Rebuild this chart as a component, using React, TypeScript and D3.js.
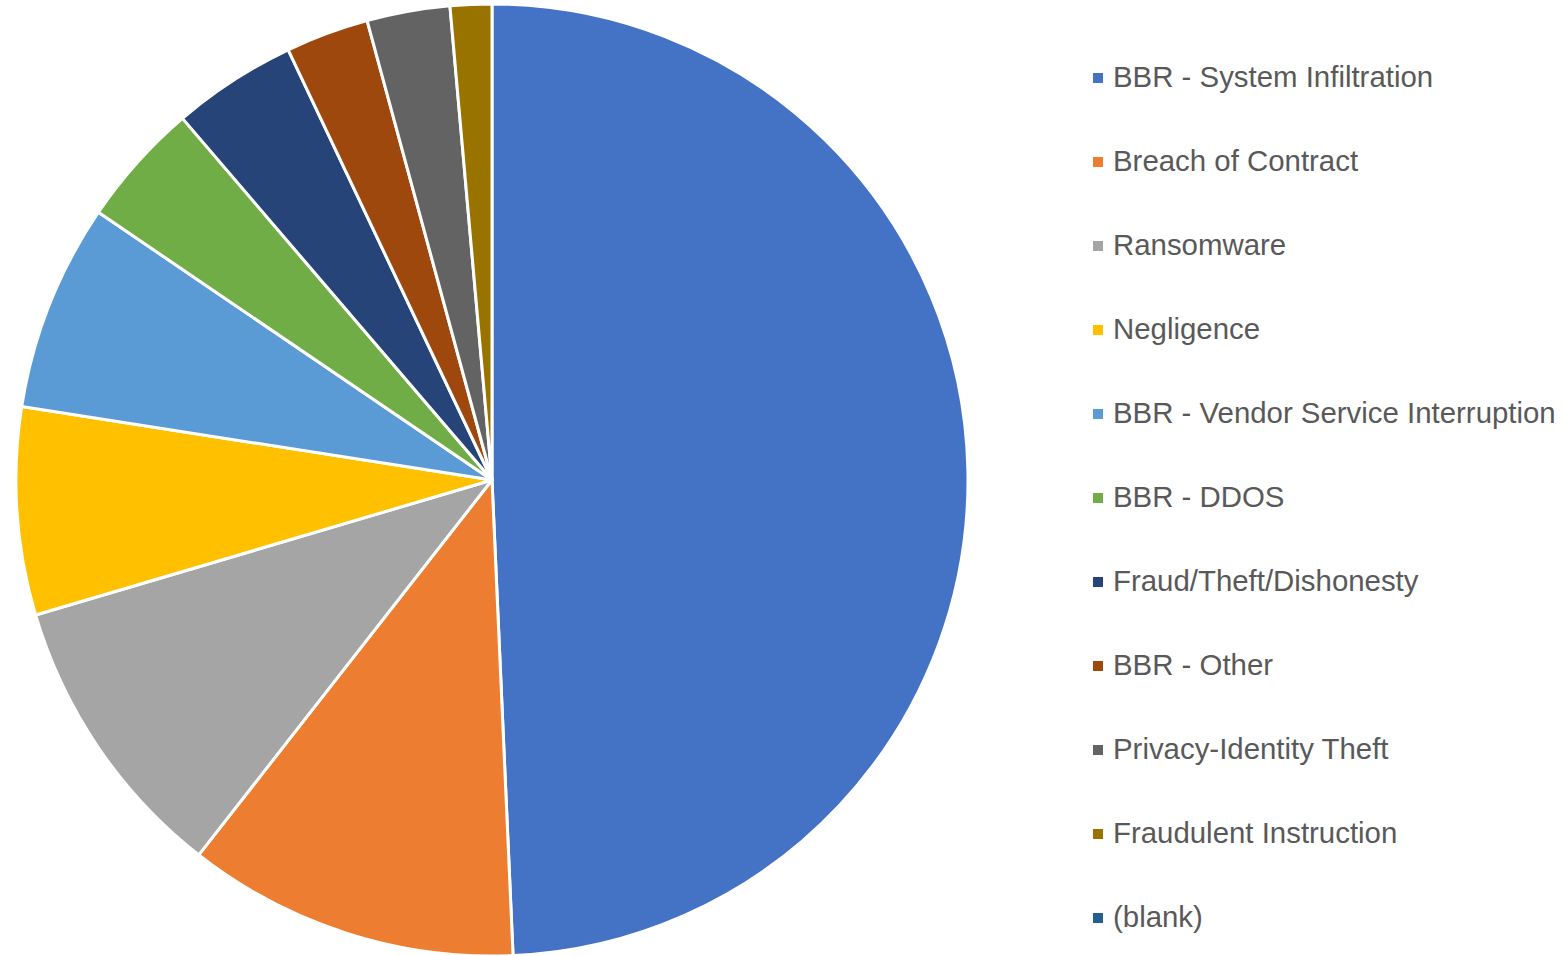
import React from "react";
import * as d3 from "d3";

const categories = [
  "BBR - System Infiltration",
  "Breach of Contract",
  "Ransomware",
  "Negligence",
  "BBR - Vendor Service Interruption",
  "BBR - DDOS",
  "Fraud/Theft/Dishonesty",
  "BBR - Other",
  "Privacy-Identity Theft",
  "Fraudulent Instruction",
  "(blank)",
];
const values = [35, 8, 7, 5, 5, 3, 3, 2, 2, 1, 0];
const colors = [
  "#4472C4", "#ED7D31", "#A5A5A5", "#FFC000", "#5B9BD5", "#70AD47",
  "#264478", "#9E480E", "#636363", "#997300", "#255E91",
];

const W = 1565;
const H = 956;
const cx = 492;
const cy = 480;
const R = 476;

export default function App() {
  const pie = d3.pie<number>().sort(null).value((d) => d)(values);
  const arc = d3.arc<d3.PieArcDatum<number>>().innerRadius(0).outerRadius(R);
  const legendY = d3.scalePoint<number>().domain(d3.range(categories.length)).range([78, 918]);
  return (
    <svg width={W} height={H} style={{ position: "absolute", left: 0, top: 0, background: "#fff" }}>
      <g transform={`translate(${cx},${cy})`}>
        {pie.map((p, i) =>
          p.value > 0 ? (
            <path key={i} d={arc(p) || ""} fill={colors[i]} stroke="#fff" strokeWidth={3} strokeLinejoin="round" />
          ) : null
        )}
      </g>
      <g>
        {categories.map((c, i) => (
          <g key={c} transform={`translate(0,${legendY(i)})`}>
            <rect x={1093} y={-5} width={10} height={10} fill={colors[i]} />
            <text x={1113} y={9} fontFamily="Liberation Sans, Arial, sans-serif" fontSize={29.4} fill="#595959">
              {c}
            </text>
          </g>
        ))}
      </g>
    </svg>
  );
}
